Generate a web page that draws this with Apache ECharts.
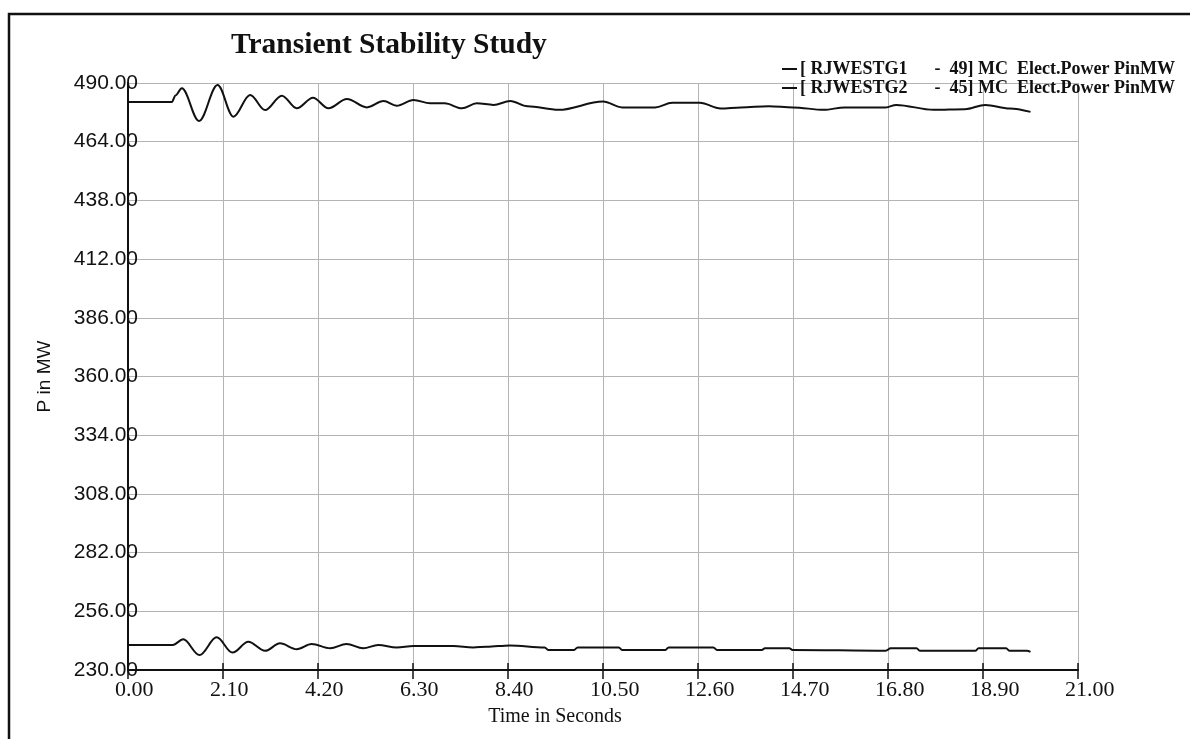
<!DOCTYPE html>
<html>
<head>
<meta charset="utf-8">
<script src="https://cdn.jsdelivr.net/npm/echarts@6/dist/echarts.min.js"></script>
<style>
html,body{margin:0;padding:0;background:#fff;}
#chart{width:1196px;height:739px;}
</style>
</head>
<body>
<div id="chart"></div>
<script>
// ---- data ----
const TITLE = 'Transient Stability Study';
const SERIES_NAMES = ['[ RJWESTG1      -  49] MC  Elect.Power PinMW', '[ RJWESTG2      -  45] MC  Elect.Power PinMW'];
const X_TICKS = [0, 2.1, 4.2, 6.3, 8.4, 10.5, 12.6, 14.7, 16.8, 18.9, 21];
const Y_TICKS = [230, 256, 282, 308, 334, 360, 386, 412, 438, 464, 490];

const t1 = [0, 0.97, 1.05, 1.19, 1.57, 1.98, 2.33, 2.70, 3.03, 3.40, 3.73, 4.09, 4.43, 4.84, 5.28, 5.65, 5.94, 6.31, 6.68, 7.0, 7.38, 7.71, 8.08, 8.45, 8.83, 9.52, 10.5, 10.92, 11.65, 12.03, 12.64, 13.1, 13.55, 14.16, 14.7, 15.38, 15.84, 16.75, 16.98, 17.81, 18.5, 18.95, 19.49, 19.95];
const p1 = [481.6, 481.6, 484.5, 487.7, 473.2, 489.1, 475.1, 484.7, 478.0, 484.4, 478.8, 483.5, 478.8, 482.9, 479.2, 482.0, 479.9, 482.5, 481.0, 481.0, 478.8, 481.0, 480.3, 482.0, 479.7, 478.1, 481.8, 479.2, 479.2, 481.2, 481.2, 478.7, 479.2, 479.7, 479.2, 478.1, 479.2, 479.2, 480.3, 478.1, 478.4, 480.3, 478.7, 477.2];

const t2 = [0, 0.99, 1.22, 1.58, 1.96, 2.31, 2.66, 3.03, 3.36, 3.73, 4.06, 4.47, 4.83, 5.2, 5.53, 5.94, 6.31, 7.19, 7.63, 7.93, 8.44, 9.21, 9.29, 9.86, 9.94, 10.85, 10.92, 11.88, 11.95, 12.94, 13.02, 14.01, 14.08, 14.62, 14.69, 16.75, 16.86, 17.43, 17.51, 18.73, 18.8, 19.41, 19.49, 19.87, 19.95];
const p2 = [241.1, 241.1, 243.6, 236.6, 244.5, 237.7, 242.5, 238.5, 241.8, 239.2, 241.5, 239.6, 241.5, 239.6, 241.1, 240.0, 240.6, 240.6, 240.0, 240.3, 240.9, 240.0, 238.9, 238.9, 240.0, 240.0, 238.9, 238.9, 240.0, 240.0, 238.9, 238.9, 239.6, 239.6, 238.9, 238.5, 239.6, 239.6, 238.5, 238.5, 239.6, 239.6, 238.5, 238.5, 238.0];

// ---- chart ----
const Y_BASE = Y_TICKS[0];
const Y_STEP = Y_TICKS[1] - Y_TICKS[0];
const X_STEP = X_TICKS[1] - X_TICKS[0];

const chart = echarts.init(document.getElementById('chart'));
const serif = '"Liberation Serif", "Times New Roman", serif';
const sans = '"Liberation Sans", Arial, sans-serif';

function zip(ts, ps) { return ts.map((t, i) => [t, ps[i] - Y_BASE]); }

chart.setOption({
  backgroundColor: '#ffffff',
  animation: false,
  title: {
    text: TITLE,
    left: 226, top: 25,
    textStyle: { fontFamily: serif, fontWeight: 'bold', fontSize: 29.5, color: '#111' }
  },
  legend: {
    orient: 'vertical',
    left: 777, top: 55,
    itemGap: 1,
    itemWidth: 15, itemHeight: 2,
    icon: 'rect',
    textStyle: { fontFamily: serif, fontWeight: 'bold', fontSize: 18, color: '#111', lineHeight: 18, padding: [0,0,0,-2] },
    data: SERIES_NAMES
  },
  grid: { left: 128, right: 118, top: 83, bottom: 69, containLabel: false },
  xAxis: [{
    type: 'value',
    min: X_TICKS[0], max: X_TICKS[X_TICKS.length - 1], interval: X_STEP,
    name: 'Time in Seconds',
    nameLocation: 'middle', nameGap: 37,
    nameTextStyle: { fontFamily: serif, fontSize: 20, color: '#111', padding: [0, 96, 0, 0] },
    axisLine: { lineStyle: { color: '#111', width: 2 } },
    axisTick: { show: true, length: 9, lineStyle: { color: '#111', width: 1.5 } },
    axisLabel: { fontFamily: serif, fontSize: 22, color: '#111', margin: 9, align: 'left', padding: [0, 0, 0, -13], formatter: v => v.toFixed(2) },
    splitLine: { show: true, lineStyle: { color: '#b4b4b4', width: 1 } }
  }, {
    type: 'value',
    min: X_TICKS[0], max: X_TICKS[X_TICKS.length - 1], interval: X_STEP,
    position: 'bottom',
    axisLine: { show: false },
    axisTick: { show: true, inside: true, length: 7, lineStyle: { color: '#111', width: 1.5 } },
    axisLabel: { show: false },
    splitLine: { show: false }
  }],
  yAxis: {
    type: 'value',
    min: 0, max: Y_TICKS[Y_TICKS.length - 1] - Y_BASE, interval: Y_STEP,
    name: 'P in MW',
    nameLocation: 'middle', nameGap: 74,
    nameTextStyle: { fontFamily: sans, fontSize: 19, color: '#111' },
    axisLine: { show: true, lineStyle: { color: '#111', width: 2 } },
    axisTick: { show: false },
    axisLabel: { fontFamily: sans, fontSize: 21, color: '#111', margin: -10, padding: [7, 0, 0, 0], formatter: v => (v + Y_BASE).toFixed(2) },
    splitLine: { show: true, lineStyle: { color: '#b4b4b4', width: 1 } }
  },
  graphic: [{
    type: 'polyline',
    shape: { points: [[9, 739], [9, 14], [1190, 14]] },
    style: { stroke: '#111', lineWidth: 2.5, fill: null },
    silent: true
  }],
  series: [{
    name: SERIES_NAMES[0], type: 'line', xAxisIndex: 0,
    data: zip(t1, p1), showSymbol: false, smooth: 0.35, smoothMonotone: 'x',
    lineStyle: { color: '#111', width: 2 }, itemStyle: { color: '#111' }
  }, {
    name: SERIES_NAMES[1], type: 'line', xAxisIndex: 0,
    data: zip(t2, p2), showSymbol: false, smooth: 0.35, smoothMonotone: 'x',
    lineStyle: { color: '#111', width: 2 }, itemStyle: { color: '#111' }
  }]
});
</script>
</body>
</html>
